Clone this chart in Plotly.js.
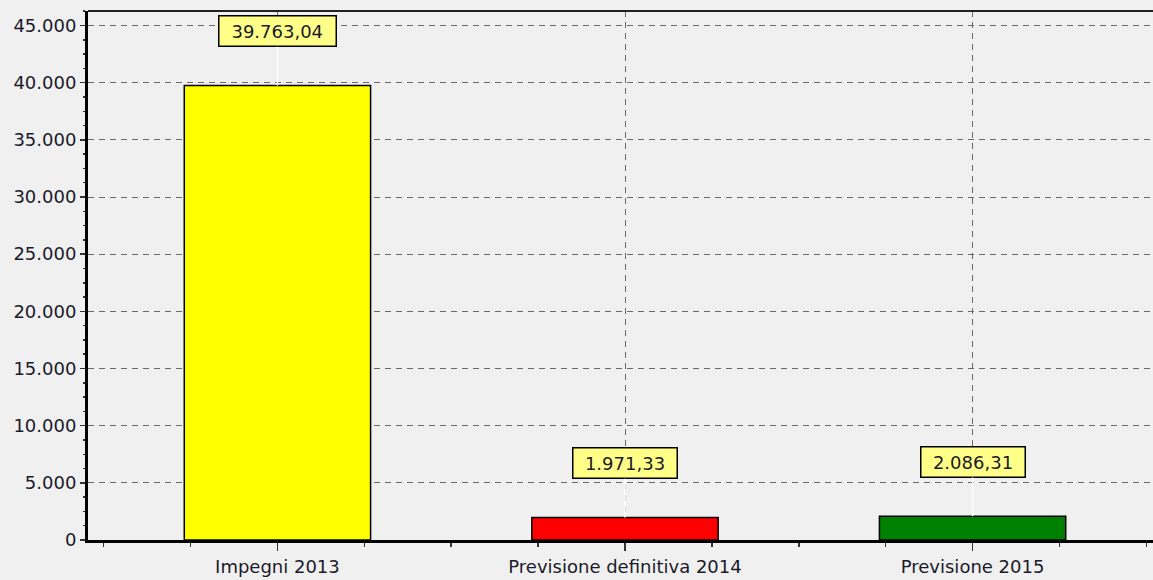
<!DOCTYPE html>
<html>
<head>
<meta charset="utf-8">
<script src="https://cdn.plot.ly/plotly-3.0.1.min.js"></script>
<style>
html,body{margin:0;padding:0;background:#f0f0f0;overflow:hidden;width:1153px;height:580px;}
#chart{width:1175px;height:580px;}
</style>
</head>
<body>
<div id="chart"></div>
<script>
var categories = ['Impegni 2013', 'Previsione definitiva 2014', 'Previsione 2015'];
var values = [39763.04, 1971.33, 2086.31];
var barColors = ['#ffff00', '#ff0000', '#008000'];
var yTickValues = [0, 5000, 10000, 15000, 20000, 25000, 30000, 35000, 40000, 45000];

function fmtIt(v) {
  var parts = v.toFixed(2).split('.');
  var intPart = parts[0].replace(/\B(?=(\d{3})+(?!\d))/g, '.');
  return intPart + ',' + parts[1];
}

var xs = categories.map(function (c, i) { return i; });
var FONT = 'DejaVu Sans, Verdana, sans-serif';

var trace = {
  type: 'bar',
  x: xs,
  y: values,
  width: 0.536,
  marker: { color: barColors, line: { color: '#000000', width: 1.5 } },
  hoverinfo: 'none'
};

var annotations = values.map(function (v, i) {
  var t = fmtIt(v);
  return {
    x: i, y: v, xref: 'x', yref: 'y',
    text: t,
    showarrow: true, arrowhead: 0, arrowcolor: '#ffffff', arrowwidth: 1.5,
    ax: 0, ay: -54, standoff: 0,
    bgcolor: '#ffff88', bordercolor: '#000000', borderwidth: 1.5, borderpad: 4,
    width: t.length * 12.5 - 5,
    font: { family: FONT, size: 18, color: '#1a1a2a' }
  };
});

var layout = {
  width: 1175, height: 580,
  margin: { l: 88, r: 13, t: 11, b: 40 },
  paper_bgcolor: '#f0f0f0',
  plot_bgcolor: '#f0f0f0',
  separators: ',.',
  showlegend: false,
  font: { family: FONT, size: 18, color: '#1a1a2a' },
  xaxis: {
    range: [-0.545, 2.545],
    tickmode: 'array',
    tickvals: xs,
    ticktext: categories,
    ticks: 'outside', ticklen: 8, tickwidth: 1.5, tickcolor: '#333',
    showgrid: true, gridcolor: '#6a6a6a', gridwidth: 1, griddash: '6px,5px',
    showline: true, linecolor: '#000', linewidth: 3,
    zeroline: false,
    minor: { tickmode: 'linear', tick0: 0, dtick: 0.25, ticks: 'outside', ticklen: 4, tickcolor: '#333', tickwidth: 1.5, showgrid: false },
    tickfont: { family: FONT, size: 18, color: '#1a1a2a' }
  },
  yaxis: {
    range: [0, 46270],
    tickmode: 'array',
    tickvals: yTickValues,
    ticktext: yTickValues.map(function (v) { return v === 0 ? '0' : String(v).replace(/\B(?=(\d{3})+(?!\d))/g, '.'); }),
    ticks: 'outside', ticklen: 5, tickwidth: 1.5, tickcolor: '#333',
    showgrid: true, gridcolor: '#6a6a6a', gridwidth: 1, griddash: '6px,5px',
    showline: true, linecolor: '#000', linewidth: 3,
    zeroline: false,
    minor: { tickmode: 'linear', tick0: 0, dtick: 1250, ticks: 'outside', ticklen: 2, tickcolor: '#333', tickwidth: 1.5, showgrid: false },
    tickfont: { family: FONT, size: 18, color: '#1a1a2a' }
  },
  shapes: [
    { type: 'line', xref: 'paper', yref: 'paper', x0: 0, x1: 1, y0: 1, y1: 1, line: { color: '#222', width: 2 } }
  ],
  annotations: annotations
};

Plotly.newPlot('chart', [trace], layout, { staticPlot: true, displayModeBar: false });
</script>
</body>
</html>
